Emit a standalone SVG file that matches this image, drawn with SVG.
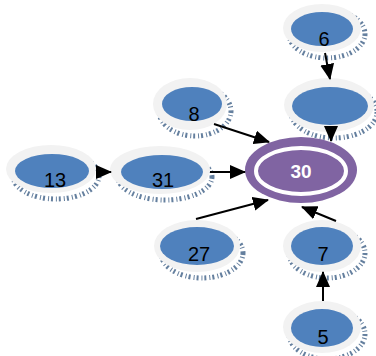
<svg xmlns="http://www.w3.org/2000/svg" width="376" height="356" viewBox="0 0 376 356">
<defs>
<style>
.sh{fill:none;stroke:#3d5f86;stroke-width:5;stroke-dasharray:2 2 1 3;opacity:0.8}
.out{fill:#f2f2f2}
.in{fill:#4f81bd}
.t{font-family:"Liberation Sans",Arial,sans-serif;font-size:20px;fill:#000;text-anchor:middle}
.t30{font-family:"Liberation Sans",Arial,sans-serif;font-size:19px;font-weight:bold;fill:#fff;text-anchor:middle}
.e{stroke:#000;stroke-width:2;fill:none}
</style>
<marker id="ahb" markerWidth="16" markerHeight="14" refX="15" refY="7" orient="auto" markerUnits="userSpaceOnUse" viewBox="0 0 16 14">
<path d="M0,0 L16,7 L0,14 z" fill="#000"/>
</marker>
</defs>
<g id="n6">
<ellipse class="sh" cx="327" cy="34" rx="38" ry="24"/>
<ellipse class="out" cx="322" cy="28" rx="39" ry="24"/>
<ellipse class="in" cx="322" cy="29" rx="31" ry="17"/>
<text class="t" x="324" y="46">6</text>
</g>
<g id="nX">
<ellipse class="sh" cx="334" cy="112" rx="43" ry="26"/>
<ellipse class="out" cx="329" cy="105" rx="45" ry="27"/>
<ellipse class="in" cx="330" cy="106" rx="38" ry="19"/>
</g>
<g id="n30">
<ellipse cx="301" cy="170" rx="56" ry="33" fill="#8064a2"/>
<ellipse cx="301" cy="171" rx="45" ry="23" fill="none" stroke="#fff" stroke-width="4"/>
<text class="t30" x="301" y="178">30</text>
</g>
<g id="n13">
<ellipse class="sh" cx="56" cy="176" rx="43" ry="23"/>
<ellipse class="out" cx="51" cy="169" rx="45" ry="24"/>
<ellipse class="in" cx="52" cy="171" rx="37" ry="17"/>
<text class="t" x="55" y="187">13</text>
</g>
<g id="n31">
<ellipse class="sh" cx="165" cy="177" rx="47" ry="23"/>
<ellipse class="out" cx="160" cy="170" rx="50" ry="24"/>
<ellipse class="in" cx="162" cy="172" rx="41" ry="17"/>
<text class="t" x="163" y="187">31</text>
</g>
<g id="n8">
<ellipse class="sh" cx="195" cy="111" rx="36" ry="25"/>
<ellipse class="out" cx="190" cy="104" rx="37" ry="26"/>
<ellipse class="in" cx="192" cy="104" rx="30" ry="17"/>
<text class="t" x="194" y="121">8</text>
</g>
<g id="n27">
<ellipse class="sh" cx="202" cy="253" rx="41" ry="25"/>
<ellipse class="out" cx="197" cy="246" rx="43" ry="26"/>
<ellipse class="in" cx="197" cy="246" rx="37" ry="19"/>
<text class="t" x="199" y="261">27</text>
</g>
<g id="n7">
<ellipse class="sh" cx="327" cy="253" rx="38" ry="25"/>
<ellipse class="out" cx="322" cy="246" rx="39" ry="26"/>
<ellipse class="in" cx="322" cy="246" rx="31" ry="19"/>
<text class="t" x="323" y="261">7</text>
</g>
<g id="n5">
<ellipse class="sh" cx="327" cy="334" rx="38" ry="25"/>
<ellipse class="out" cx="322" cy="327" rx="39" ry="26"/>
<ellipse class="in" cx="322" cy="328" rx="31" ry="19"/>
<text class="t" x="323" y="344">5</text>
</g>
<g id="connectors">
<line class="e" x1="325" y1="53" x2="330" y2="79" marker-end="url(#ahb)"/>
<line class="e" x1="331" y1="133" x2="331" y2="141" marker-end="url(#ahb)"/>
<line class="e" x1="96" y1="172" x2="111" y2="172" marker-end="url(#ahb)"/>
<line class="e" x1="210" y1="172" x2="245" y2="172" marker-end="url(#ahb)"/>
<line class="e" x1="214" y1="124" x2="269" y2="142" marker-end="url(#ahb)"/>
<line class="e" x1="196" y1="219" x2="268" y2="200" marker-end="url(#ahb)"/>
<line class="e" x1="336" y1="221" x2="302" y2="207" marker-end="url(#ahb)"/>
<line class="e" x1="323" y1="301" x2="323" y2="272" marker-end="url(#ahb)"/>
</g>
</svg>
